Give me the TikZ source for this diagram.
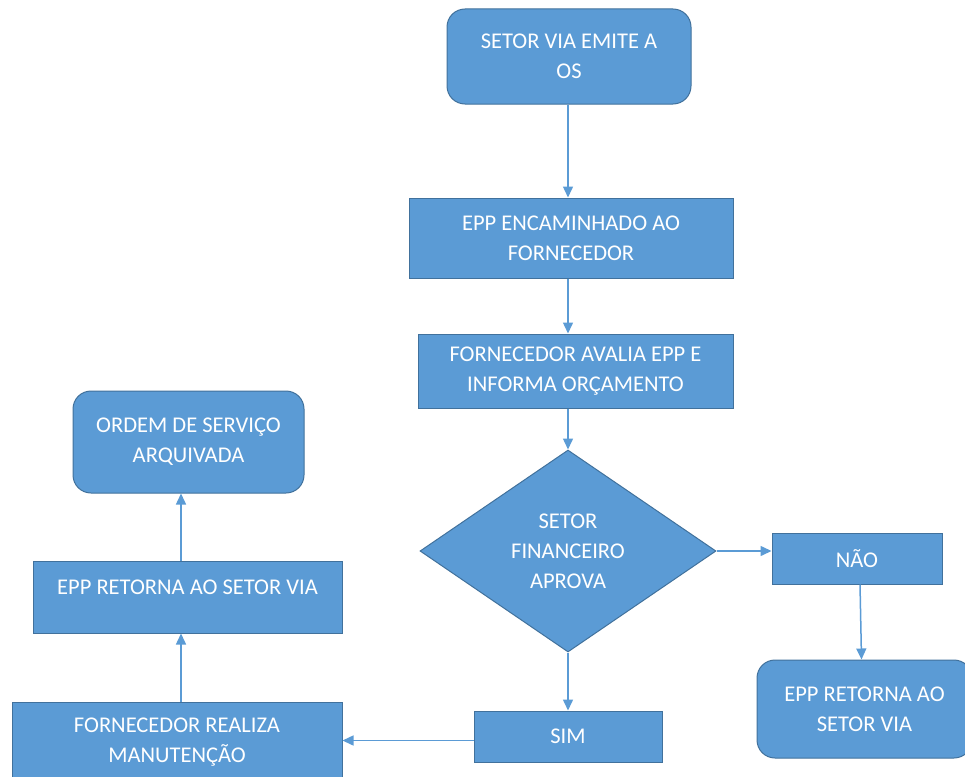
\documentclass[tikz,border=0pt]{standalone}
\usepackage{fontspec}
\setmainfont{Carlito}
\usetikzlibrary{shapes.geometric,arrows.meta}
\definecolor{boxfill}{HTML}{5B9BD5}
\definecolor{boxline}{HTML}{41719C}
\definecolor{arrowc}{HTML}{5B9BD5}
\tikzset{
  txt/.style={text=white,align=center,font=\fontsize{22.5}{30}\selectfont,inner sep=0pt},
  base/.style={txt,fill=boxfill,draw=boxline,line width=1pt},
  rbox/.style={base,rectangle},
  roundbox/.style={base,rectangle,rounded corners=18pt},
  decision/.style={base,diamond},
  conn/.style={draw=arrowc,line width=1.5pt,-{Triangle[length=11pt,width=10pt]}}
}
\begin{document}
\begin{tikzpicture}[x=1pt,y=-1pt]
\useasboundingbox (0,0) rectangle (965,776);
% nodes
\node[roundbox,minimum width=244pt,minimum height=95pt] (emite) at (569,56.5) {SETOR VIA EMITE A\\OS};
\node[rbox,minimum width=324pt,minimum height=80pt] (encam) at (571,238) {EPP ENCAMINHADO AO\\FORNECEDOR};
\node[rbox,minimum width=315pt,minimum height=74pt] (avalia) at (575.5,371) {FORNECEDOR AVALIA EPP E\\INFORMA ORÇAMENTO};
\node[decision,minimum width=296pt,minimum height=202pt,aspect=1.465] (aprova) at (568,551) {SETOR\\FINANCEIRO\\APROVA};
\node[rbox,minimum width=170pt,minimum height=51pt] (nao) at (857,558.5) {NÃO};
\node[roundbox,minimum width=215pt,minimum height=98pt] (retB) at (864.5,709) {EPP RETORNA AO\\SETOR VIA};
\node[rbox,minimum width=188pt,minimum height=51pt] (sim) at (568,736.5) {SIM};
\node[rbox,minimum width=330pt,minimum height=90pt,anchor=north] (manut) at (177,702) {};
\node[txt] (manutT) at (177,742) {FORNECEDOR REALIZA\\MANUTENÇÃO};
\node[rbox,minimum width=309pt,minimum height=72pt] (retA) at (187.5,597) {};
\node[txt] (retAT) at (187.5,587) {EPP RETORNA AO SETOR VIA};
\node[roundbox,minimum width=231pt,minimum height=102pt] (arq) at (188.5,442) {ORDEM DE SERVIÇO\\ARQUIVADA};
% helper coordinates
\coordinate (simL) at ([yshift=-4pt]sim.west);
\coordinate (manTop) at ([xshift=4pt]manut.north);
\coordinate (retATop) at ([xshift=-6.5pt]retA.north);
\coordinate (naoB) at ([xshift=3pt]nao.south);
% connectors
\draw[conn] (aprova.north |- emite.south) -- (aprova.north |- encam.north);
\draw[conn] (aprova.north |- encam.south) -- (aprova.north |- avalia.north);
\draw[conn] (aprova.north |- avalia.south) -- (aprova.north);
\draw[conn] (aprova.east) -- (aprova.east -| nao.west);
\draw[conn] (naoB) -- ([xshift=-3pt]retB.north);
\draw[conn] (aprova.south) -- (sim.north);
\draw[conn] (simL) -- (simL -| manut.east);
\draw[conn] (manTop) -- (manTop |- retA.south);
\draw[conn] (retATop) -- (retATop |- arq.south);
\end{tikzpicture}
\end{document}
